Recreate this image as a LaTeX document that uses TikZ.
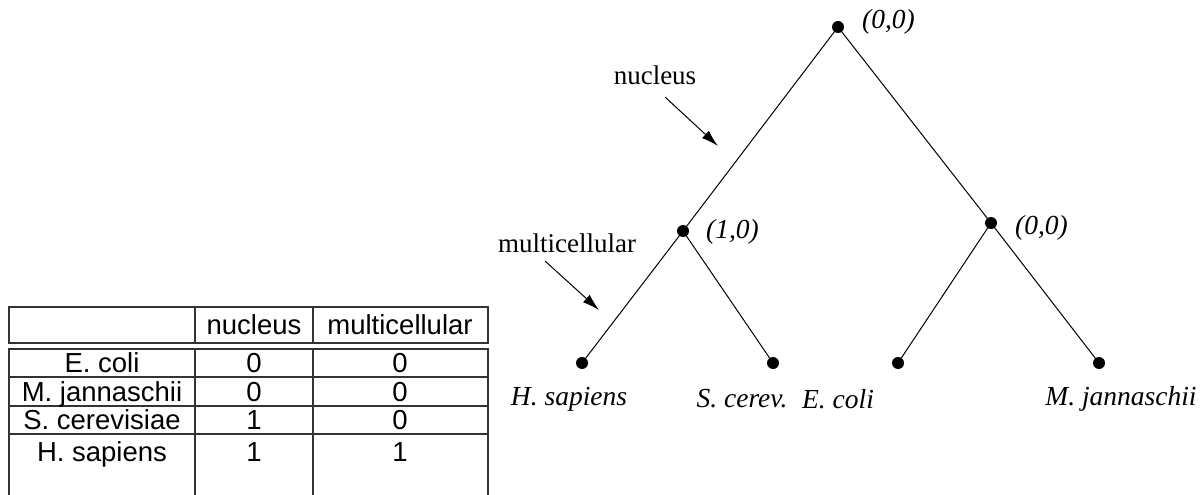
\documentclass[tikz,border=0pt]{standalone}
\usepackage{fontspec}
\setmainfont{Liberation Serif}
\newfontfamily\tabfont{Liberation Sans}
\usetikzlibrary{arrows.meta}
\begin{document}
\begin{tikzpicture}[x=1pt,y=-1pt,
  dot/.style={circle,fill=black,inner sep=0pt,minimum size=12pt},
  edge/.style={line width=1pt},
  lbl/.style={font=\fontsize{27.5}{32}\selectfont\itshape,inner sep=0pt},
  note/.style={font=\fontsize{27}{32}\selectfont,inner sep=0pt},
  cell/.style={font=\tabfont\fontsize{27.5}{32}\selectfont,inner sep=0pt},
  grid/.style={line width=1.4pt,draw=black!80},
  pointer/.style={line width=1pt,-{Latex[length=17pt,width=10pt]}}]
\useasboundingbox (0,0) rectangle (1203,495);
% ---- table ----
\draw[grid] (9,307) rectangle (488,343);
\draw[grid] (195,307) -- (195,343);
\draw[grid] (313,307) -- (313,343);
\draw[grid] (9,495) -- (9,349) -- (488,349) -- (488,495);
\foreach \yy in {377,406,434} \draw[grid] (9,\yy) -- (488,\yy);
\draw[grid] (195,349) -- (195,495);
\draw[grid] (313,349) -- (313,495);
\node[cell] (h1) at (254,325) {nucleus};
\node[cell] (h2) at (400,325) {multicellular};
\node[cell,anchor=base] (t1) at (102,372) {E. coli};
\node[cell,anchor=base] (t1a) at (254,372) {0};
\node[cell,anchor=base] (t1b) at (400,372) {0};
\node[cell,anchor=base] (t2) at (102,401) {M. jannaschii};
\node[cell,anchor=base] (t2a) at (254,401) {0};
\node[cell,anchor=base] (t2b) at (400,401) {0};
\node[cell,anchor=base] (t3) at (102,429) {S. cerevisiae};
\node[cell,anchor=base] (t3a) at (254,429) {1};
\node[cell,anchor=base] (t3b) at (400,429) {0};
\node[cell,anchor=base] (t4) at (102,461) {H. sapiens};
\node[cell,anchor=base] (t4a) at (254,461) {1};
\node[cell,anchor=base] (t4b) at (400,461) {1};
% ---- tree ----
\node[dot] (r) at (838,27) {};
\node[dot] (a) at (683,231) {};
\node[dot] (b) at (991,223) {};
\node[dot] (hs) at (582,363) {};
\node[dot] (sc) at (773,363) {};
\node[dot] (ec) at (898,363) {};
\node[dot] (mj) at (1099,363) {};
\draw[edge] (r.center) -- (a.center);
\draw[edge] (r.center) -- (b.center);
\draw[edge] (a.center) -- (hs.center);
\draw[edge] (a.center) -- (sc.center);
\draw[edge] (b.center) -- (ec.center);
\draw[edge] (b.center) -- (mj.center);
\node[lbl,anchor=west] (rl) at (862,22) {(0,0)};
\node[lbl,anchor=west] (al) at (706,232) {(1,0)};
\node[lbl,anchor=west] (bl) at (1015,228) {(0,0)};
\node[lbl] (hsl) at (569,399) {H. sapiens};
\node[lbl] (scl) at (742,399) {S. cerev.};
\node[lbl] (ecl) at (838,399) {E. coli};
\node[lbl] (mjl) at (1121,399) {M. jannaschii};
% ---- annotations ----
\node[note] (nuc) at (655,75) {nucleus};
\node[note] (mul) at (567,243) {multicellular};
\coordinate (n1) at (665,97);
\coordinate (n2) at (718,146);
\coordinate (m1) at (545,261);
\coordinate (m2) at (599,310);
\draw[pointer] (n1) -- (n2);
\draw[pointer] (m1) -- (m2);
\end{tikzpicture}
\end{document}
